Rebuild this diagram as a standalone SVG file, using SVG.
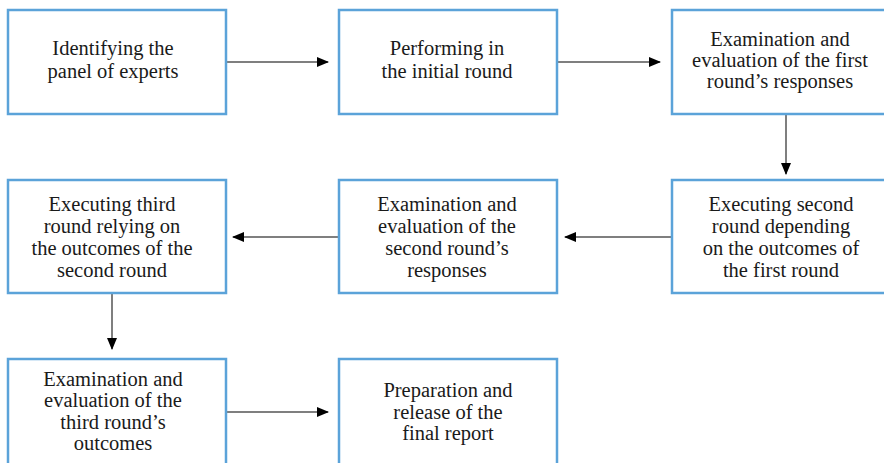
<svg xmlns="http://www.w3.org/2000/svg" width="884" height="463" viewBox="0 0 884 463">
<defs>
<style>
.box{fill:#fff;stroke:#5ba3d9;stroke-width:2.5}
.t{font-family:"Liberation Serif","Times New Roman",serif;font-size:20.5px;fill:#1a1a1a;text-anchor:middle}
.c{stroke:#555;stroke-width:1.5;fill:none}
</style>
<marker id="ah" markerWidth="12" markerHeight="10" refX="11" refY="5" orient="auto" markerUnits="userSpaceOnUse">
<path d="M0,0 L12,5 L0,10 Z" fill="#000"/>
</marker>
</defs>
<rect width="884" height="463" fill="#fff"/>
<g id="connectors">
<line class="c" x1="227" y1="62" x2="328" y2="62" marker-end="url(#ah)"/>
<line class="c" x1="558" y1="62" x2="660" y2="62" marker-end="url(#ah)"/>
<line class="c" x1="786" y1="115" x2="786" y2="174" marker-end="url(#ah)"/>
<line class="c" x1="671" y1="237" x2="565" y2="237" marker-end="url(#ah)"/>
<line class="c" x1="339" y1="237" x2="233" y2="237" marker-end="url(#ah)"/>
<line class="c" x1="112" y1="294" x2="112" y2="349" marker-end="url(#ah)"/>
<line class="c" x1="227" y1="412" x2="328" y2="412" marker-end="url(#ah)"/>
</g>
<g id="n1"><rect class="box" x="8" y="10" width="218" height="104"/>
<text class="t" x="113" y="55">Identifying the</text><text class="t" x="113" y="78">panel of experts</text></g>
<g id="n2"><rect class="box" x="339" y="10" width="218" height="104"/>
<text class="t" x="447" y="55">Performing in</text><text class="t" x="447" y="78">the initial round</text></g>
<g id="n3"><rect class="box" x="672" y="10" width="218" height="104"/>
<text class="t" x="780" y="46">Examination and</text><text class="t" x="780" y="67">evaluation of the first</text><text class="t" x="780" y="88">round’s responses</text></g>
<g id="n4"><rect class="box" x="672" y="180" width="218" height="113"/>
<text class="t" x="781" y="211">Executing second</text><text class="t" x="781" y="233">round depending</text><text class="t" x="781" y="255">on the outcomes of</text><text class="t" x="781" y="277">the first round</text></g>
<g id="n5"><rect class="box" x="339" y="180" width="218" height="113"/>
<text class="t" x="447" y="211">Examination and</text><text class="t" x="447" y="233">evaluation of the</text><text class="t" x="447" y="255">second round’s</text><text class="t" x="447" y="277">responses</text></g>
<g id="n6"><rect class="box" x="8" y="180" width="218" height="113"/>
<text class="t" x="112" y="211">Executing third</text><text class="t" x="112" y="233">round relying on</text><text class="t" x="112" y="255">the outcomes of the</text><text class="t" x="112" y="277">second round</text></g>
<g id="n7"><rect class="box" x="8" y="359" width="218" height="110"/>
<text class="t" x="113" y="386">Examination and</text><text class="t" x="113" y="407">evaluation of the</text><text class="t" x="113" y="429">third round’s</text><text class="t" x="113" y="450">outcomes</text></g>
<g id="n8"><rect class="box" x="339" y="359" width="218" height="110"/>
<text class="t" x="448" y="397">Preparation and</text><text class="t" x="448" y="419">release of the</text><text class="t" x="448" y="440">final report</text></g>
</svg>
